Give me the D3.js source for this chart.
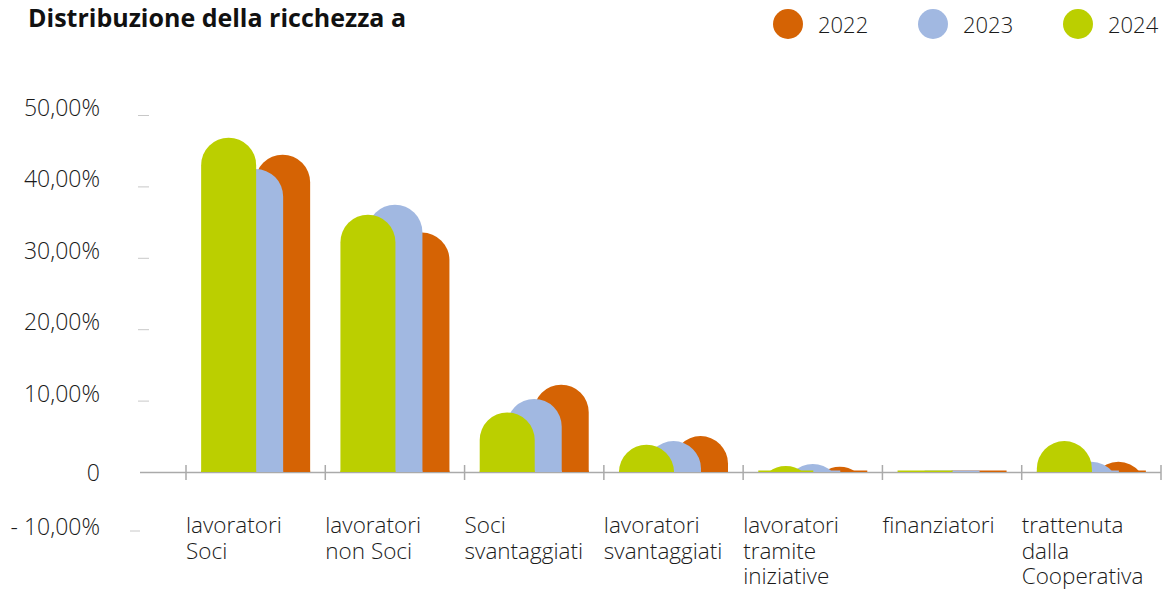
<!DOCTYPE html>
<html>
<head>
<meta charset="utf-8">
<script src="https://cdn.jsdelivr.net/npm/d3@7"></script>
<style>
body { margin: 0; background: #fff; }
text { font-family: "Open Sans", sans-serif; }
</style>
</head>
<body>
<svg id="chart" width="1168" height="591"></svg>
<script>
// data (percent)
const categories = ["lavoratori\nSoci", "lavoratori\nnon Soci", "Soci\nsvantaggiati", "lavoratori\nsvantaggiati",
    "lavoratori\ntramite\niniziative", "finanziatori", "trattenuta\ndalla\nCooperativa"];
const years = ["2022", "2023", "2024"];
const values2022 = [44.5, 33.6, 12.3, 5.1, 0.8, 0.1, 1.5];
const values2023 = [42.5, 37.5, 10.3, 4.4, 1.2, 0.1, 1.5];
const values2024 = [46.9, 36.1, 8.4, 3.9, 0.9, 0.1, 4.4];
const yTicks = [-10, 0, 10, 20, 30, 40, 50];
const yTickLabels = ["- 10,00%", "0", "10,00%", "20,00%", "30,00%", "40,00%", "50,00%"];

const colors = {"2022": "#d56304", "2023": "#a1b8e1", "2024": "#bbcf00"};
const seriesValues = {"2022": values2022, "2023": values2023, "2024": values2024};

const svg = d3.select("#chart");

const x = d3.scaleBand().domain(categories).range([186, 1161]).padding(0);
// series offset inside a group (2024 front-left, 2022 back-right)
const xs = d3.scalePoint().domain(["2024", "2023", "2022"]).range([-27, 27]);
const y = d3.scaleLinear().domain([-10, 0, 50]).range([531, 472.5, 115.5]);

const barW = 55;
const r = barW / 2;

// title
svg.append("text")
    .attr("x", 28).attr("y", 27)
    .attr("font-size", 25).attr("font-weight", 700).attr("fill", "#111")
    .text("Distribuzione della ricchezza a");

// legend
const legendX = [788, 933, 1078];
const legend = svg.append("g").selectAll("g").data(years).join("g")
    .attr("transform", (d, i) => "translate(" + legendX[i] + ",24)");
legend.append("circle").attr("r", 15).attr("fill", d => colors[d]);
legend.append("text")
    .attr("x", 30).attr("y", 8.5)
    .attr("font-size", 22).attr("font-weight", 300).attr("fill", "#1a1a1a")
    .text(d => d);

// y axis: labels and little dashes
const yAxis = svg.append("g");
yAxis.selectAll("text").data(yTicks).join("text")
    .attr("x", 100)
    .attr("y", d => y(d) + (d > 0 ? 0.5 : d === 0 ? 8 : 4))
    .attr("text-anchor", "end")
    .attr("font-size", 23).attr("font-weight", 300).attr("fill", "#1a1a1a")
    .text((d, i) => yTickLabels[i]);
yAxis.selectAll("line").data(yTicks.filter(d => d !== 0)).join("line")
    .attr("x1", d => d < 0 ? 130 : 138).attr("x2", d => d < 0 ? 140 : 149)
    .attr("y1", d => y(d)).attr("y2", d => y(d))
    .attr("stroke", "#c8c8c8").attr("stroke-width", 1);

// x axis baseline and tick marks at category boundaries
svg.append("line")
    .attr("x1", 140).attr("x2", 1161)
    .attr("y1", y(0)).attr("y2", y(0))
    .attr("stroke", "#aaa").attr("stroke-width", 1.5);
const bounds = categories.map(c => x(c)).concat([x.range()[1]]);
svg.append("g").selectAll("line").data(bounds).join("line")
    .attr("x1", d => d).attr("x2", d => d)
    .attr("y1", 465).attr("y2", 480)
    .attr("stroke", "#aaa").attr("stroke-width", 1.5);

// rounded-top bar clipped at the baseline
function barPath(cx, v) {
    const y0 = y(0) - 0.5;
    const top = y(v);
    const h = y0 - top;
    if (h >= r) {
        return "M" + (cx - r) + "," + y0 + "V" + (top + r) +
            "A" + r + "," + r + " 0 0 1 " + (cx + r) + "," + (top + r) + "V" + y0 + "Z";
    }
    const half = Math.sqrt(r * r - (r - h) * (r - h));
    return "M" + (cx - half) + "," + y0 + "A" + r + "," + r + " 0 0 1 " + (cx + half) + "," + y0 + "Z";
}

// draw back to front: 2022, 2023, 2024
const bars = svg.append("g");
["2022", "2023", "2024"].forEach(yr => {
    const g = bars.append("g").attr("fill", colors[yr]);
    const cx = (d, i) => x(categories[i]) + x.bandwidth() / 2 + xs(yr);
    g.selectAll("path").data(seriesValues[yr]).join("path")
        .attr("d", (d, i) => barPath(cx(d, i), d));
    // thin foot on the baseline
    g.selectAll("rect").data(seriesValues[yr]).join("rect")
        .attr("x", (d, i) => cx(d, i) - r)
        .attr("y", y(0) - 2)
        .attr("width", barW)
        .attr("height", 1.5);
});

// category labels
const catLabels = svg.append("g").selectAll("text").data(categories).join("text")
    .attr("x", d => x(d))
    .attr("y", 533)
    .attr("font-size", 22.5).attr("font-weight", 300).attr("fill", "#1a1a1a");
catLabels.selectAll("tspan").data(d => d.split("\n")).join("tspan")
    .attr("x", function () { return d3.select(this.parentNode).attr("x"); })
    .attr("dy", (d, i) => i === 0 ? 0 : 25.5)
    .text(d => d);
</script>
</body>
</html>
